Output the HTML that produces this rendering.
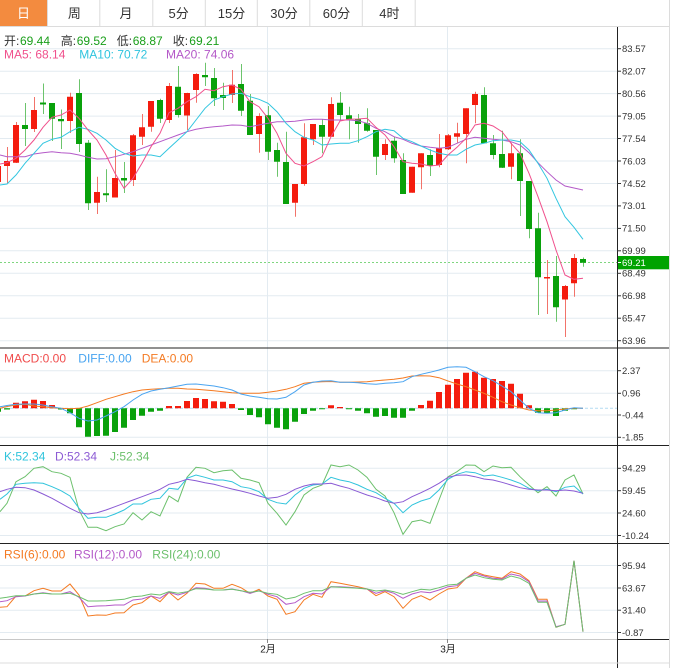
<!DOCTYPE html>
<html><head><meta charset="utf-8"><style>
html,body{margin:0;padding:0;background:#fff;}
svg{display:block;}
text{font-family:"Liberation Sans","Noto Sans CJK SC",sans-serif;}
</style></head><body>
<svg width="675" height="668" viewBox="0 0 675 668" xmlns="http://www.w3.org/2000/svg">
<defs><clipPath id="pc"><rect x="0" y="27" width="617" height="640"/></clipPath></defs>
<rect width="675" height="668" fill="#fff"/>
<!-- tab bar -->
<rect x="0" y="0" width="47.3" height="26" fill="#f38b3f"/>
<g stroke="#dcdcdc" stroke-width="1">
<line x1="0" y1="26.5" x2="669" y2="26.5"/>
<line x1="47.5" y1="0" x2="47.5" y2="26"/>
<line x1="99.8" y1="0" x2="99.8" y2="26"/>
<line x1="152.8" y1="0" x2="152.8" y2="26"/>
<line x1="205.3" y1="0" x2="205.3" y2="26"/>
<line x1="257.3" y1="0" x2="257.3" y2="26"/>
<line x1="309.8" y1="0" x2="309.8" y2="26"/>
<line x1="362.3" y1="0" x2="362.3" y2="26"/>
<line x1="415.2" y1="0" x2="415.2" y2="26"/>
<line x1="669.5" y1="0" x2="669.5" y2="668"/>
</g>
<g font-size="13" text-anchor="middle" fill="#333">
<text x="23.5" y="18" fill="#fff">日</text>
<text x="74.4" y="18">周</text>
<text x="126" y="18">月</text>
<text x="178.6" y="18">5分</text>
<text x="231.5" y="18">15分</text>
<text x="284" y="18">30分</text>
<text x="336.5" y="18">60分</text>
<text x="389.4" y="18">4时</text>
</g>
<!-- grid lines -->
<g stroke="#e3ebf1" stroke-width="1">
<line x1="0" y1="48.7" x2="617" y2="48.7"/><line x1="0" y1="71.2" x2="617" y2="71.2"/>
<line x1="0" y1="93.6" x2="617" y2="93.6"/><line x1="0" y1="116.1" x2="617" y2="116.1"/>
<line x1="0" y1="138.5" x2="617" y2="138.5"/><line x1="0" y1="161" x2="617" y2="161"/>
<line x1="0" y1="183.5" x2="617" y2="183.5"/><line x1="0" y1="205.9" x2="617" y2="205.9"/>
<line x1="0" y1="228.4" x2="617" y2="228.4"/><line x1="0" y1="250.8" x2="617" y2="250.8"/>
<line x1="0" y1="273.3" x2="617" y2="273.3"/><line x1="0" y1="295.8" x2="617" y2="295.8"/>
<line x1="0" y1="318.2" x2="617" y2="318.2"/><line x1="0" y1="340.7" x2="617" y2="340.7"/>
<line x1="0" y1="370.7" x2="617" y2="370.7"/><line x1="0" y1="393.3" x2="617" y2="393.3"/>
<line x1="0" y1="415" x2="617" y2="415"/><line x1="0" y1="437.3" x2="617" y2="437.3"/>
<line x1="0" y1="468.3" x2="617" y2="468.3"/><line x1="0" y1="490.7" x2="617" y2="490.7"/>
<line x1="0" y1="513" x2="617" y2="513"/><line x1="0" y1="535.5" x2="617" y2="535.5"/>
<line x1="0" y1="565.5" x2="617" y2="565.5"/><line x1="0" y1="588" x2="617" y2="588"/>
<line x1="0" y1="610.2" x2="617" y2="610.2"/><line x1="0" y1="632.5" x2="617" y2="632.5"/>
<line x1="267.5" y1="27" x2="267.5" y2="639"/><line x1="447.5" y1="27" x2="447.5" y2="639"/>
</g>
<!-- panel borders -->
<g stroke="#222" stroke-width="1">
<line x1="0" y1="348" x2="669" y2="348"/>
<line x1="0" y1="445.5" x2="669" y2="445.5"/>
<line x1="0" y1="543.5" x2="669" y2="543.5"/>
<line x1="617" y1="639.5" x2="669" y2="639.5"/>
<line x1="617.5" y1="27" x2="617.5" y2="668"/>
</g>
<line x1="0" y1="639.5" x2="617" y2="639.5" stroke="#c8c8c8"/>
<line x1="0" y1="663" x2="669" y2="663" stroke="#dcdcdc"/>
<g stroke="#888"><line x1="267.5" y1="639" x2="267.5" y2="643"/><line x1="447.5" y1="639" x2="447.5" y2="643"/></g>
<g font-size="10" fill="#222" text-anchor="middle">
<text x="268" y="652.5">2月</text><text x="448" y="652.5">3月</text>
</g>

<g clip-path="url(#pc)">
<!-- price dotted line -->
<line x1="0" y1="262.5" x2="617" y2="262.5" stroke="#7fd67f" stroke-dasharray="2 2"/>
<!-- candles -->
<path transform="translate(0.5,0)" stroke="#f2736a" stroke-width="1" fill="none" d="M-2 160V185 M7 147V183 M16 122V163 M34 97V132 M70 92.7V133 M97 176.7V214 M115 150V197.5 M133 134V186 M142 114V145 M151 101V131.7 M169 83V123 M187 92.7V130 M196 73.3V102.7 M232 70V103 M259 113.3V152.7 M295 184V216.7 M304 123.3V185.7 M313 124V145 M331 97.3V136.7 M385 139.3V160 M412 166.7V192.7 M421 153.3V189.3 M439 134V167.3 M448 134V150 M457 122.7V142.7 M466 108.3V163.3 M475 91.7V123.3 M511 142.7V179.3 M547 260V314 M565 285V337 M574 254V296.7"/>
<path transform="translate(0.5,0)" stroke="#6cc46c" stroke-width="1" fill="none" d="M25 103V146 M43 83.5V114 M52 103V141 M61 109.5V149 M79 79.3V152 M88 140V210 M106 169.3V202 M124 162V193 M160 98.7V123 M178 66V117.5 M205 62.7V86 M214 68V106 M223 82.7V110 M241 64V116 M250 94V135 M268 106V160 M277 142.7V176.7 M286 131.7V204 M322 119.3V153.3 M340 92V120 M349 106.7V139.3 M358 114V142.7 M367 108.3V131.7 M376 130V175 M394 136.7V162.7 M403 153.3V194 M430 149.3V176 M484 87.3V143.3 M493 135V159.3 M502 130.7V168 M520 139.3V216 M529 181V238.3 M538 212.7V315 M556 256V321.7 M583 257.5V266.7"/>
<path fill="#f41c0e" d="M-5 166h6V182h-6z M4 161h6V166h-6z M13 125h6V162.7h-6z M31 110h6V129h-6z M67 96.7h6V121h-6z M94 192h6V202.7h-6z M112 178h6V197.5h-6z M130 135.3h6V180h-6z M139 127.3h6V136.7h-6z M148 101h6V126.7h-6z M166 86h6V120h-6z M184 93h6V115.5h-6z M193 74h6V90h-6z M229 84.7h6V95h-6z M256 116h6V134h-6z M292 184h6V202.7h-6z M301 137.3h6V184h-6z M310 124h6V139.3h-6z M328 104h6V136.7h-6z M382 144h6V155h-6z M409 166.7h6V192.7h-6z M418 153.3h6V167.3h-6z M436 148.3h6V165h-6z M445 135.3h6V149.3h-6z M454 133.3h6V136.7h-6z M463 108.3h6V134h-6z M472 94h6V105h-6z M508 153.3h6V166.7h-6z M544 277h6V278.5h-6z M562 286h6V299.5h-6z M571 258h6V283.3h-6z"/>
<path fill="#09a10b" d="M22 125h6V129h-6z M40 102.5h6V104.5h-6z M49 103h6V118.7h-6z M58 119h6V121.3h-6z M76 93h6V144h-6z M85 142.7h6V203.3h-6z M103 193.3h6V195.3h-6z M121 178h6V180.5h-6z M157 100h6V118.7h-6z M175 86.7h6V115h-6z M202 75h6V77.3h-6z M211 78h6V98.3h-6z M220 95h6V98h-6z M238 84h6V110.7h-6z M247 100.7h6V135h-6z M265 115.3h6V151.7h-6z M274 150h6V161.7h-6z M283 162h6V204h-6z M319 125h6V136.7h-6z M337 102.7h6V115h-6z M346 115.3h6V119.3h-6z M355 119.3h6V124h-6z M364 123.3h6V130.7h-6z M373 130h6V156.7h-6z M391 140.7h6V158.3h-6z M400 160h6V194h-6z M427 155h6V166h-6z M481 95h6V143.3h-6z M490 143.3h6V155h-6z M499 154h6V167.7h-6z M517 153.3h6V181h-6z M526 181h6V229h-6z M535 228.3h6V277.3h-6z M553 276h6V307.3h-6z M580 259h6V262.7h-6z"/>
<!-- MA lines -->
<g fill="none" stroke-width="1">
<polyline stroke="#b45ac8" points="0,155 7,156.7 16,156.7 25,156.7 34,154 43,152.7 52,151.7 61,152.7 70,153.3 79,155 88,157.3 97,159 106,158.7 115,156.7 124,154.3 133,151.7 142,148.3 151,145 160,141.7 169,138.3 178,135 187,131.7 196,129.3 205,127.7 214,126.7 223,126 232,125 241,125.3 250,126.7 259,125 268,123.3 277,121.7 286,121.7 295,121.3 304,120 313,119.3 322,119.3 331,120 340,120 349,120 358,120.7 367,123.3 376,128.3 385,131.7 394,136.7 403,139.3 412,143.3 421,146 430,147.3 439,148.3 448,147.3 457,143.3 466,139.3 475,137.3 484,138.3 493,139.3 502,140 511,141.7 520,145 529,152.7 538,162.7 547,171.7 556,180 565,186 574,188 583,190"/>
<polyline stroke="#33c6e0" points="0,185 7,184 16,175 25,163.3 34,153.3 43,143.3 52,139.3 61,137.3 70,131.7 79,127.3 88,129.3 97,133.3 106,140 115,148.3 124,153.3 133,156 142,155 151,155 160,156.7 169,148.3 178,140 187,131.7 196,120 205,108.3 214,100 223,96.7 232,94 241,93.3 250,96.7 259,99.3 268,103.3 277,111.7 286,123.3 295,131.7 304,137.3 313,140 322,145 331,144 340,143.3 349,143.3 358,140.7 367,136.7 376,131.7 385,129.3 394,130.7 403,138.3 412,141.7 421,146 430,150 439,153.3 448,155 457,155 466,149.3 475,145 484,143.3 493,140.7 502,140 511,140 520,141.7 529,150 538,163.3 547,178.3 556,198.3 565,216.7 574,227.3 583,239.3"/>
<polyline stroke="#f0508c" points="0,164 7,162.7 16,158.3 25,150 34,140 43,127.3 52,117.3 61,115 70,110 79,118.3 88,130 97,140 106,155 115,173.3 124,188.3 133,178.3 142,163.3 151,146.7 160,133.3 169,112.7 178,108.3 187,101.7 196,96.7 205,89.3 214,90.7 223,86.7 232,85 241,89.3 250,101.7 259,106.7 268,118.3 277,133.3 286,153.3 295,163.3 304,166 313,161.7 322,156.7 331,136.7 340,121 349,119.3 358,119 367,118.3 376,127.3 385,135 394,146.7 403,161.7 412,163.3 421,164 430,166 439,165 448,155 457,147.3 466,138.3 475,125 484,123.3 493,126 502,131.7 511,143.3 520,153.3 529,173.3 538,196.7 547,221.7 556,250 565,275 574,279.3 583,278.3"/>
</g>
<!-- MACD -->
<line x1="0" y1="408.3" x2="617" y2="408.3" stroke="#b4dcf2" stroke-dasharray="3 2"/>
<path fill="#f41c0e" d="M13 402.7h6V408.3h-6z M22 401.3h6V408.3h-6z M31 399.7h6V408.3h-6z M40 401h6V408.3h-6z M49 405h6V408.3h-6z M166 406h6V408.3h-6z M175 406h6V408.3h-6z M184 401h6V408.3h-6z M193 398h6V408.3h-6z M202 399h6V408.3h-6z M211 401.3h6V408.3h-6z M220 401.7h6V408.3h-6z M229 404h6V408.3h-6z M328 405.3h6V408.3h-6z M337 407h6V408.3h-6z M418 405h6V408.3h-6z M427 400.7h6V408.3h-6z M436 392h6V408.3h-6z M445 384.7h6V408.3h-6z M454 379h6V408.3h-6z M463 372.7h6V408.3h-6z M472 371.7h6V408.3h-6z M481 377.7h6V408.3h-6z M490 379h6V408.3h-6z M499 381h6V408.3h-6z M508 383.7h6V408.3h-6z M517 393.7h6V408.3h-6z M526 405.3h6V408.3h-6z"/>
<path fill="#09a10b" d="M-5 408.3h6V411.7h-6z M4 408.3h6V409.5h-6z M58 408.3h6V409.5h-6z M67 408.3h6V413.3h-6z M76 408.3h6V427.3h-6z M85 408.3h6V436.7h-6z M94 408.3h6V436h-6z M103 408.3h6V435.7h-6z M112 408.3h6V432h-6z M121 408.3h6V427.7h-6z M130 408.3h6V420h-6z M139 408.3h6V415.7h-6z M148 408.3h6V411.7h-6z M157 408.3h6V410.7h-6z M238 408.3h6V410h-6z M247 408.3h6V415h-6z M256 408.3h6V417.3h-6z M265 408.3h6V424.3h-6z M274 408.3h6V427.7h-6z M283 408.3h6V429.3h-6z M292 408.3h6V421.7h-6z M301 408.3h6V414h-6z M310 408.3h6V410.7h-6z M319 408.3h6V409.3h-6z M346 408.3h6V409.3h-6z M355 408.3h6V410.7h-6z M364 408.3h6V413.3h-6z M373 408.3h6V416.7h-6z M382 408.3h6V416h-6z M391 408.3h6V417.7h-6z M400 408.3h6V417.7h-6z M409 408.3h6V410.7h-6z M535 408.3h6V412.7h-6z M544 408.3h6V413.3h-6z M553 408.3h6V416h-6z M562 408.3h6V410.7h-6z M571 408.3h6V409.3h-6z"/>
<g fill="none" stroke-width="1">
<polyline stroke="#f47a22" points="0,408.3 7,406.5 16,405 25,404.3 34,406 43,406.7 52,407.7 61,408.3 70,408.7 79,408.3 88,406 97,402.7 106,399.3 115,396.7 124,394 133,391.7 142,390 151,389.3 160,388.7 169,388.3 178,388.3 187,389 196,389.3 205,390 214,390.7 223,391.7 232,392.7 241,393.3 250,393.3 259,393.3 268,392.3 277,391 286,389.3 295,386.7 304,383.3 313,382.3 322,381.7 331,381.5 340,382.3 349,382.3 358,382 367,381.7 376,380.7 385,380 394,379.3 403,378 412,376 421,375.7 430,376 439,377.7 448,381 457,384 466,386.7 475,390 484,393.3 493,397.3 502,401.7 511,405 520,407.7 529,410 538,410.7 547,410.7 556,410 565,409 574,408.3 583,408.3"/>
<polyline stroke="#4aa4f0" points="0,406.7 7,405.5 16,404.3 25,404 34,404 43,405 52,406.7 61,408.3 70,412.7 79,418.3 88,421 97,420 106,416 115,411.7 124,406.7 133,400 142,394.3 151,391 160,389.3 169,387.7 178,386 187,384.3 196,384 205,385 214,386 223,387.7 232,390 241,394 250,396 259,397.3 268,398.7 277,399 286,397.3 295,391.7 304,385 313,382.3 322,381 331,380.7 340,382.3 349,382.3 358,382.7 367,383.7 376,384.3 385,383.3 394,382.7 403,381.7 412,376.7 421,374.3 430,372.3 439,370 448,367.3 457,366.7 466,367.3 475,371.7 484,376.7 493,380.7 502,386 511,391.7 520,400 529,408.3 538,412.7 547,413.3 556,412.7 565,410 574,407.7 583,408.3"/>
<!-- KDJ -->
<polyline stroke="#6cc06c" points="0,511.7 7,503.3 16,481.7 25,476.7 34,468.3 43,466.7 52,471.7 61,473.3 70,477.3 79,510 88,527.3 97,527.3 106,530.7 115,526.7 124,524 133,512.7 142,520 151,511.7 160,516 169,496 178,501.7 187,477.3 196,467.3 205,468.3 214,472.7 223,470.7 232,470 241,478.3 250,480 259,482.7 268,503.3 277,513.3 286,525 295,511.7 304,495 313,488.3 322,485 331,465 340,466.7 349,465 358,470 367,477.3 376,489.3 385,496 394,512.7 403,534.3 412,521.7 421,520 430,523.3 439,500 448,476.7 457,471.7 466,465 475,465.3 484,471.7 493,466 502,467.7 511,467.3 520,476.7 529,485 538,492.7 547,486.7 556,496 565,480 574,475 583,494"/>
<polyline stroke="#30c4dc" points="0,499.3 7,494 16,484.3 25,483.3 34,482.7 43,483.3 52,486.7 61,490.7 70,496 79,508.3 88,518.3 97,517.3 106,517.3 115,514 124,510 133,504 142,504 151,499.3 160,498.3 169,488.3 178,489.3 187,478.3 196,475 205,477.3 214,480 223,480 232,481.7 241,486.7 250,488.3 259,491.7 268,499.3 277,502.7 286,504 295,495 304,488.3 313,485 322,484 331,477.3 340,480 349,481.7 358,485 367,489.3 376,492.7 385,498.3 394,503.3 403,512.7 412,505 421,501 430,498.3 439,490 448,479.3 457,474.3 466,471.7 475,472.7 484,476 493,475 502,477.3 511,480 520,483.3 529,488.3 538,490.7 547,489.3 556,491.7 565,487.3 574,486 583,494"/>
<polyline stroke="#8a5ad4" points="0,491.7 7,489.3 16,487.3 25,487.7 34,490 43,494 52,498.3 61,503.3 70,508.3 79,512.7 88,514 97,512.7 106,510 115,506.7 124,503.3 133,500 142,496.7 151,493.3 160,489.3 169,484.3 178,482.3 187,479.3 196,480.7 205,482.7 214,484.3 223,486.7 232,489 241,491 250,493.3 259,496 268,498.3 277,497.3 286,494.3 295,489.3 304,486 313,484 322,484 331,483.3 340,486 349,488.3 358,491.7 367,495 376,497.7 385,501 394,503.3 403,501.7 412,496.7 421,492.7 430,488.3 439,483.3 448,477.3 457,475.3 466,475 475,476.7 484,479 493,480 502,482.3 511,485 520,487.7 529,489.3 538,490 547,490 556,490.7 565,490 574,491 583,493.3"/>
<!-- RSI -->
<polyline stroke="#f47a22" points="0,607.3 7,606.7 16,596 25,596 34,590.7 43,588.3 52,591 61,591 70,584 79,595 88,616 97,615 106,615.3 115,613 124,612.7 133,605 142,602.7 151,596 160,601.7 169,592.3 178,600 187,593.3 196,583.3 205,584 214,588.3 223,588.3 232,584.3 241,587.7 250,593.3 259,589.3 268,596 277,599.3 286,614.3 295,611.7 304,600 313,594.3 322,597.3 331,581.7 340,583.3 349,585 358,586.7 367,589 376,595.7 385,591.7 394,596.7 403,608.3 412,599.3 421,595.7 430,600 439,594 448,589 457,587.7 466,578.3 475,571.7 484,575 493,576.7 502,578.3 511,571.7 520,574 529,580.7 538,599.3 547,599.3 556,627.3 565,624.3 574,560.7 583,631.7"/>
<polyline stroke="#b45ac8" points="0,601.7 7,600.7 16,596.7 25,596 34,594 43,592.7 52,594 61,594 70,591.7 79,597.3 88,606.7 97,606 106,605.7 115,605 124,605 133,600 142,599 151,596 160,598.3 169,592.3 178,595 187,592.3 196,587.7 205,588.3 214,590 223,590 232,589 241,590.7 250,593.3 259,590.7 268,594.3 277,596.7 286,604.3 295,602.7 304,596.7 313,593.3 322,594 331,586.7 340,586.7 349,587.3 358,588 367,589 376,593.3 385,590.7 394,593.3 403,598.3 412,594 421,591.7 430,592.7 439,590 448,586.7 457,585.7 466,578.3 475,573.3 484,576 493,578.3 502,579 511,574 520,576 529,581.7 538,601 547,601 556,626.7 565,624.3 574,560.7 583,631.7"/>
<polyline stroke="#6cc06c" points="0,598.3 7,597.3 16,595.7 25,595.7 34,594 43,593.3 52,594 61,594 70,593.3 79,596.7 88,601 97,601 106,600.7 115,600 124,599.3 133,596.7 142,596 151,594 160,595 169,591.7 178,593.3 187,591.7 196,588.7 205,589 214,590 223,590 232,589.3 241,590.7 250,592.3 259,591 268,593.3 277,594.3 286,599 295,597.3 304,593.3 313,590.7 322,590.7 331,586.7 340,587.3 349,587.7 358,588.3 367,589 376,591 385,590 394,591.7 403,594.3 412,591.7 421,589.3 430,590 439,587.7 448,585 457,584.3 466,578.3 475,575 484,577.7 493,579.3 502,580 511,576 520,578.3 529,583.3 538,602.3 547,602.3 556,627.3 565,624.3 574,560.7 583,631.7"/>
</g>
</g>

<!-- axis ticks -->
<g stroke="#333" stroke-width="1">
<line x1="617" y1="48.7" x2="621" y2="48.7"/><line x1="617" y1="71.2" x2="621" y2="71.2"/>
<line x1="617" y1="93.6" x2="621" y2="93.6"/><line x1="617" y1="116.1" x2="621" y2="116.1"/>
<line x1="617" y1="138.5" x2="621" y2="138.5"/><line x1="617" y1="161" x2="621" y2="161"/>
<line x1="617" y1="183.5" x2="621" y2="183.5"/><line x1="617" y1="205.9" x2="621" y2="205.9"/>
<line x1="617" y1="228.4" x2="621" y2="228.4"/><line x1="617" y1="250.8" x2="621" y2="250.8"/>
<line x1="617" y1="273.3" x2="621" y2="273.3"/><line x1="617" y1="295.8" x2="621" y2="295.8"/>
<line x1="617" y1="318.2" x2="621" y2="318.2"/><line x1="617" y1="340.7" x2="621" y2="340.7"/>
<line x1="617" y1="370.7" x2="621" y2="370.7"/><line x1="617" y1="393.3" x2="621" y2="393.3"/>
<line x1="617" y1="415" x2="621" y2="415"/><line x1="617" y1="437.3" x2="621" y2="437.3"/>
<line x1="617" y1="468.3" x2="621" y2="468.3"/><line x1="617" y1="490.7" x2="621" y2="490.7"/>
<line x1="617" y1="513" x2="621" y2="513"/><line x1="617" y1="535.5" x2="621" y2="535.5"/>
<line x1="617" y1="565.5" x2="621" y2="565.5"/><line x1="617" y1="588" x2="621" y2="588"/>
<line x1="617" y1="610.2" x2="621" y2="610.2"/><line x1="617" y1="632.5" x2="621" y2="632.5"/>
</g>
<g font-size="9.5" fill="#333">
<text x="622" y="52">83.57</text><text x="622" y="74.5">82.07</text>
<text x="622" y="96.9">80.56</text><text x="622" y="119.4">79.05</text>
<text x="622" y="141.8">77.54</text><text x="622" y="164.3">76.03</text>
<text x="622" y="186.8">74.52</text><text x="622" y="209.2">73.01</text>
<text x="622" y="231.7">71.50</text><text x="622" y="254.1">69.99</text>
<text x="622" y="276.6">68.49</text><text x="622" y="299.1">66.98</text>
<text x="622" y="321.5">65.47</text><text x="622" y="344">63.96</text>
<text x="622" y="374">2.37</text><text x="622" y="396.6">0.96</text>
<text x="622" y="418.3">-0.44</text><text x="622" y="440.6">-1.85</text>
<text x="622" y="471.6">94.29</text><text x="622" y="494">59.45</text>
<text x="622" y="516.3">24.60</text><text x="622" y="538.8">-10.24</text>
<text x="622" y="568.8">95.94</text><text x="622" y="591.3">63.67</text>
<text x="622" y="613.5">31.40</text><text x="622" y="635.8">-0.87</text>
</g>
<rect x="618" y="256" width="51" height="13.3" fill="#00a300"/>
<line x1="618" y1="262.5" x2="621" y2="262.5" stroke="#fff"/>
<text x="622" y="266" font-size="9.5" fill="#fff">69.21</text>

<!-- header text -->
<g font-size="12">
<text x="4" y="45" fill="#333">开:</text><text x="20" y="45" fill="#1a9f1a">69.44</text>
<text x="60.7" y="45" fill="#333">高:</text><text x="76.7" y="45" fill="#1a9f1a">69.52</text>
<text x="116.7" y="45" fill="#333">低:</text><text x="132.7" y="45" fill="#1a9f1a">68.87</text>
<text x="172.7" y="45" fill="#333">收:</text><text x="189.3" y="45" fill="#1a9f1a">69.21</text>
<text x="4" y="58.5" fill="#f0508c">MA5: 68.14</text>
<text x="79.3" y="58.5" fill="#2fc4de">MA10: 70.72</text>
<text x="166" y="58.5" fill="#b458c8">MA20: 74.06</text>
<text x="4" y="362.5" fill="#f04c4c">MACD:0.00</text>
<text x="78.3" y="362.5" fill="#48a4f0">DIFF:0.00</text>
<text x="141.7" y="362.5" fill="#f47a22">DEA:0.00</text>
<text x="4" y="460.5" fill="#30c4dc">K:52.34</text>
<text x="55" y="460.5" fill="#8c5ad4">D:52.34</text>
<text x="110" y="460.5" fill="#6cc06c">J:52.34</text>
<text x="4" y="558.3" fill="#f47a22">RSI(6):0.00</text>
<text x="74" y="558.3" fill="#b45ac8">RSI(12):0.00</text>
<text x="152.3" y="558.3" fill="#6cc06c">RSI(24):0.00</text>
</g>
</svg>
</body></html>
